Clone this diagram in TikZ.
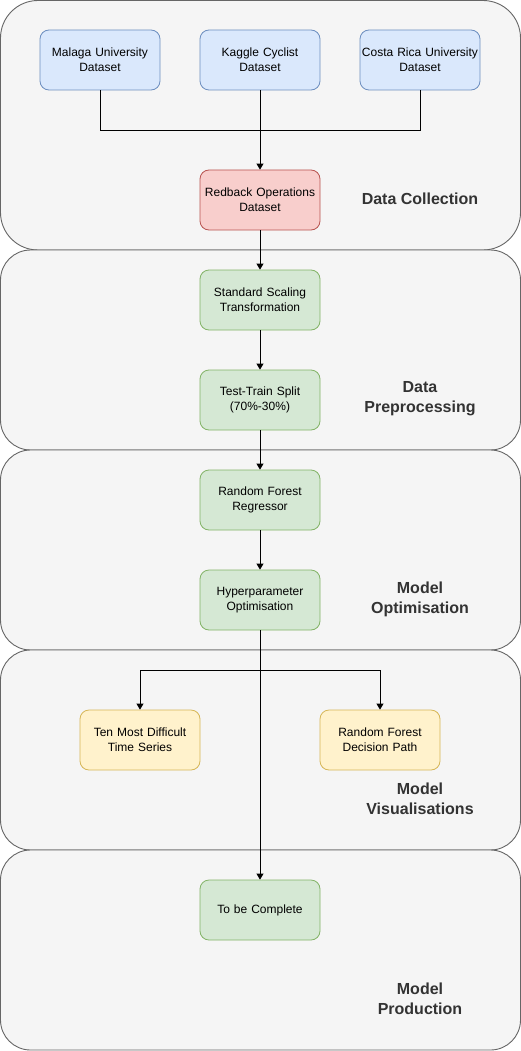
\documentclass[tikz,border=0pt]{standalone}
\usepackage{fontspec}
\setmainfont{Liberation Sans}
\usetikzlibrary{arrows.meta}
\definecolor{contfill}{HTML}{F5F5F5}
\definecolor{contdraw}{HTML}{666666}
\definecolor{bluefill}{HTML}{DAE8FC}
\definecolor{bluedraw}{HTML}{6C8EBF}
\definecolor{redfill}{HTML}{F8CECC}
\definecolor{reddraw}{HTML}{B85450}
\definecolor{greenfill}{HTML}{D5E8D4}
\definecolor{greendraw}{HTML}{82B366}
\definecolor{yellowfill}{HTML}{FFF2CC}
\definecolor{yellowdraw}{HTML}{D6B656}
\definecolor{labelcol}{HTML}{333333}
\begin{document}
\begin{tikzpicture}[x=1pt,y=-1pt,
  container/.style={draw=contdraw,fill=contfill,line width=0.9pt},
  box/.style={rectangle,rounded corners=9pt,minimum width=120pt,minimum height=60pt,
    align=center,font=\fontsize{12}{15}\selectfont,text width=120pt,inner sep=0pt,line width=0.8pt},
  bluebox/.style={box,fill=bluefill,draw=bluedraw},
  redbox/.style={box,fill=redfill,draw=reddraw},
  greenbox/.style={box,fill=greenfill,draw=greendraw},
  yellowbox/.style={box,fill=yellowfill,draw=yellowdraw},
  stagelabel/.style={align=center,font=\bfseries\fontsize{16}{20}\selectfont,text=labelcol},
  conn/.style={line width=0.9pt},
  arr/.style={conn,-{Triangle[length=6pt,width=7pt]}}
]
\useasboundingbox (0,0) rectangle (521,1051);
% containers
\draw[container,rounded corners=37.5pt] (0.5,0.5) rectangle (520.5,250);
\draw[container,rounded corners=30pt] (0.5,250) rectangle (520.5,450);
\draw[container,rounded corners=30pt] (0.5,450) rectangle (520.5,650);
\draw[container,rounded corners=30pt] (0.5,650) rectangle (520.5,850);
\draw[container,rounded corners=30pt] (0.5,850) rectangle (520.5,1050);
% stage labels
\node[stagelabel] (l1) at (420,199) {Data Collection};
\node[stagelabel] (l2) at (420,399) {Data\\Preprocessing};
\node[stagelabel] (l3) at (420,599) {Model\\Optimisation};
\node[stagelabel] (l4) at (420,799) {Model\\Visualisations};
\node[stagelabel] (l5) at (420,999) {Model\\Production};
% boxes
\node[bluebox] (malaga) at (100,60) {Malaga University\\Dataset};
\node[bluebox] (kaggle) at (260,60) {Kaggle Cyclist\\Dataset};
\node[bluebox] (costa) at (420,60) {Costa Rica University\\Dataset};
\node[redbox] (redback) at (260,200) {Redback Operations\\Dataset};
\node[greenbox] (scale) at (260,300) {Standard Scaling\\Transformation};
\node[greenbox] (split) at (260,400) {Test-Train Split\\(70\%-30\%)};
\node[greenbox] (rf) at (260,500) {Random Forest\\Regressor};
\node[greenbox] (hyper) at (260,600) {Hyperparameter\\Optimisation};
\node[yellowbox] (ten) at (140,740) {Ten Most Difficult\\Time Series};
\node[yellowbox] (path) at (380,740) {Random Forest\\Decision Path};
\node[greenbox] (done) at (260,910) {To be Complete};
% connectors
\coordinate (j1) at (260,130);
\coordinate (j2) at (260,670);
\draw[conn] (malaga.south) |- (j1);
\draw[conn] (costa.south) |- (j1);
\draw[arr] (kaggle) -- (redback);
\draw[arr] (redback) -- (scale);
\draw[arr] (scale) -- (split);
\draw[arr] (split) -- (rf);
\draw[arr] (rf) -- (hyper);
\draw[arr] (hyper) -- (done);
\draw[arr] (j2) -| (ten.north);
\draw[arr] (j2) -| (path.north);
\end{tikzpicture}
\end{document}
